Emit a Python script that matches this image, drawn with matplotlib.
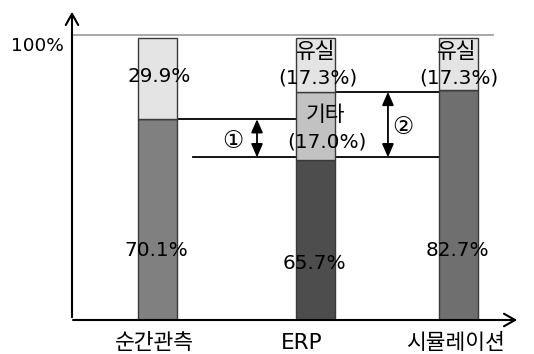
import matplotlib
matplotlib.use("Agg")
import matplotlib.pyplot as plt

plt.rcParams['font.family'] = ['DejaVu Sans', 'Noto Sans CJK KR']

# data
categories = ['순간관측', 'ERP', '시뮬레이션']
xpos = [0.0, 1.0, 1.9]
# segment heights as drawn in the picture (not to scale with labels)
base_h = [71.2, 56.7, 81.4]
other_h = [0.0, 24.2, 0.0]
loss_h = [28.8, 19.1, 18.6]
# printed values
base_pct = [70.1, 65.7, 82.7]
other_pct = [None, 17.0, None]
loss_pct = [29.9, 17.3, 17.3]

base_colors = ['#808080', '#4d4d4d', '#6f6f6f']
other_color = '#c2c2c2'
loss_color = '#e4e4e4'
edge = '#3a3a3a'
width = 0.246

fig = plt.figure(figsize=(5.34, 3.54), dpi=100)
W, H = 534, 354
ax = fig.add_axes([72 / W, (H - 320) / H, (520 - 72) / W, (320 - 9) / H])
ax.set_xlim(-0.539, 2.287)
ax.set_ylim(0, (320 - 9) / 2.82)
ax.axis('off')

# bars
bot2 = [b + o for b, o in zip(base_h, other_h)]
ax.bar(xpos, base_h, width, color=base_colors, edgecolor=edge, lw=1, zorder=3)
ax.bar(xpos, other_h, width, bottom=base_h, color=other_color, edgecolor=edge, lw=1, zorder=3)
ax.bar(xpos, loss_h, width, bottom=bot2, color=loss_color, edgecolor=edge, lw=1, zorder=3)

# 100% line
ax.plot([-0.539, 2.117], [101.1, 101.1], color='#999999', lw=1.2, zorder=2, clip_on=False)
ax.text(-0.59, 97.2, '100%', ha='right', va='center', fontsize=13.3)

# axes with open arrow heads
ax.annotate('', xy=(-0.539, ax.get_ylim()[1]), xytext=(-0.539, 0),
            arrowprops=dict(arrowstyle='->,head_length=0.8,head_width=0.45', lw=1.5, color='black'),
            annotation_clip=False)
ax.annotate('', xy=(2.287, 0), xytext=(-0.55, 0),
            arrowprops=dict(arrowstyle='->,head_length=0.8,head_width=0.45', lw=1.5, color='black'),
            annotation_clip=False)

# reference lines
y1 = base_h[0]
y_low = 57.7
y2 = bot2[1]
ax.plot([0.047, 0.874], [y1, y1], color='black', lw=1.3, zorder=2)
ax.plot([0.224, 1.823], [y_low, y_low], color='black', lw=1.3, zorder=2)
ax.plot([1.126, 1.776], [y2, y2], color='black', lw=1.3, zorder=2)

arrow_style = dict(arrowstyle='<|-|>,head_length=0.8,head_width=0.35', lw=1.3, color='black',
                   shrinkA=0, shrinkB=0)
ax.annotate('', xy=(0.628, y1), xytext=(0.628, y_low), arrowprops=arrow_style)
ax.annotate('', xy=(1.454, y2), xytext=(1.454, y_low), arrowprops=arrow_style)
ax.text(0.476, 63.5, '①', ha='center', va='center', fontsize=17)
ax.text(1.549, 68.4, '②', ha='center', va='center', fontsize=17)

# value labels
fs = 14.4
ks = 15.5
ax.text(xpos[0] + 0.01, 86.2, f'{loss_pct[0]}%', ha='center', va='center', fontsize=fs, zorder=4)
ax.text(xpos[1], 95.0, '유실', ha='center', va='center', fontsize=ks, zorder=4)
ax.text(xpos[1] + 0.01, 85.8, f'({loss_pct[1]}%)', ha='center', va='center', fontsize=fs, zorder=4)
ax.text(xpos[1] + 0.06, 72.7, '기타', ha='center', va='center', fontsize=ks, zorder=4)
ax.text(xpos[1] + 0.07, 63.1, f'({other_pct[1]}%)', ha='center', va='center', fontsize=fs, zorder=4)
ax.text(xpos[2] - 0.01, 95.0, '유실', ha='center', va='center', fontsize=ks, zorder=4)
ax.text(xpos[2], 85.8, f'({loss_pct[2]}%)', ha='center', va='center', fontsize=fs, zorder=4)

label_y = [24.8, 20.2, 24.8]
for x, p, ly in zip(xpos, base_pct, label_y):
    ax.text(x - 0.01, ly, f'{p}%', ha='center', va='center', fontsize=fs, zorder=4)

# category labels
cat_dx = [-0.02, -0.09, -0.02]
for x, dx, c in zip(xpos, cat_dx, categories):
    ax.text(x + dx, -8.2, c, ha='center', va='center', fontsize=15.5)

fig.savefig('out.png', dpi=100)
